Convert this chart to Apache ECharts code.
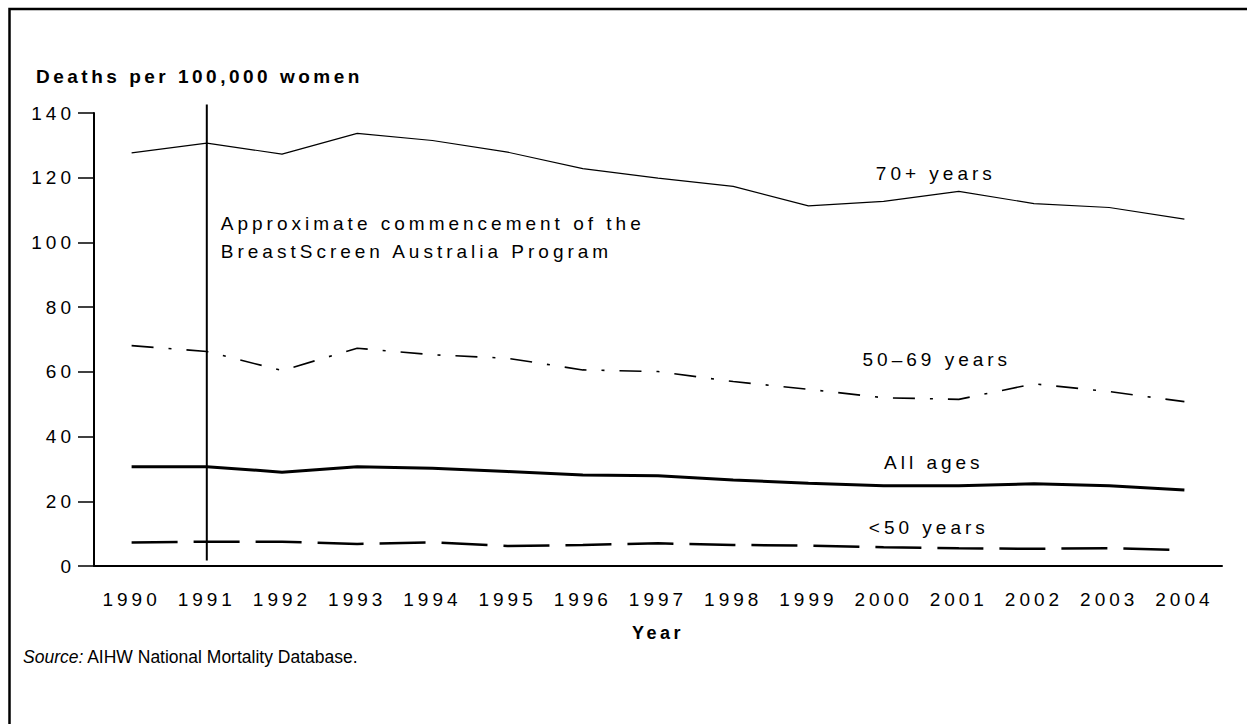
<!DOCTYPE html>
<html><head><meta charset="utf-8">
<script src="https://cdn.jsdelivr.net/npm/echarts@6/dist/echarts.min.js"></script>
<style>
html,body{margin:0;padding:0;background:#fff}
#c{width:1247px;height:724px}
#c text[style*="Liberation Sans"]{letter-spacing:4px}
#c text[style*="Liberation Sans"][style*="bold"]{letter-spacing:3.5px}
</style></head><body><div id="c"></div>
<script>
const years = ['1990','1991','1992','1993','1994','1995','1996','1997','1998','1999','2000','2001','2002','2003','2004'];
const over70 = [127.7,130.7,127.3,133.7,131.5,127.9,122.8,119.9,117.3,111.3,112.7,115.8,112.0,110.8,107.2];
const age50to69 = [68.1,66.3,60.4,67.3,65.3,64.2,60.6,60.1,57.0,54.6,52.0,51.5,56.3,53.9,50.8];
const allAges = [30.7,30.7,29.0,30.7,30.2,29.2,28.1,27.9,26.6,25.6,24.8,24.8,25.4,24.8,23.5];
const under50 = [7.3,7.5,7.5,6.8,7.3,6.2,6.5,7.0,6.5,6.3,5.8,5.5,5.3,5.5,4.9];
const seriesNames = ['70+ years','50\u201369 years','All ages','<50 years'];
const yMin = 0, yMax = 140, yStep = 20;
const screeningYear = '1991';
const screeningSpan = [1.7, 142.6];
const annotationText = 'Approximate commencement of the\nBreastScreen Australia Program';
const yAxisTitle = 'Deaths per 100,000 women';
const xAxisTitle = 'Year';
const sourceNote = 'AIHW National Mortality Database.';

const SP = 'Liberation Sans';
const chart = echarts.init(document.getElementById('c'), null, {renderer: 'svg'});

function nameMark(coordX, coordY, name, dx) {
  return {coord: [coordX, coordY], name: name, label: {offset: [dx, 0]}};
}
const markLabel = {
  show: true, position: 'inside', formatter: '{b}', color: '#000',
  fontSize: 19, fontFamily: SP
};
const markBase = {symbol: 'rect', symbolSize: 1, itemStyle: {color: 'rgba(0,0,0,0)'}, label: markLabel, silent: true};

chart.setOption({
  animation: false,
  backgroundColor: '#fff',
  title: {
    text: yAxisTitle, left: 31, top: 62,
    textStyle: {fontSize: 19, fontWeight: 'bold', fontFamily: SP, color: '#000'}
  },
  grid: {left: 94, right: 25, top: 113, bottom: 158, outerBoundsMode: 'none'},
  xAxis: {
    type: 'category', data: years, boundaryGap: true,
    name: xAxisTitle, nameLocation: 'middle', nameGap: 58,
    nameTextStyle: {fontSize: 18, fontWeight: 'bold', fontFamily: SP, color: '#000'},
    axisLine: {lineStyle: {color: '#000', width: 2}},
    axisTick: {alignWithLabel: true, length: 15, lineStyle: {color: '#000', width: 1.5}},
    axisLabel: {interval: 0, margin: 24, fontSize: 19, fontFamily: SP, color: '#000'},
    splitLine: {show: false}
  },
  yAxis: {
    type: 'value', min: yMin, max: yMax, interval: yStep,
    axisLine: {show: true, lineStyle: {color: '#000', width: 2}},
    axisTick: {show: true, length: 16, lineStyle: {color: '#000', width: 1.5}},
    axisLabel: {margin: 19, fontSize: 19, fontFamily: SP, color: '#000'},
    splitLine: {show: false}
  },
  series: [
    {
      name: seriesNames[0], type: 'line', data: over70, symbol: 'none', clip: false,
      lineStyle: {color: '#000', width: 1.2},
      markPoint: Object.assign({}, markBase, {data: [nameMark('2001', 121.2, seriesNames[0], -23)]})
    },
    {
      name: seriesNames[1], type: 'line', data: age50to69, symbol: 'none', clip: false,
      lineStyle: {color: '#000', width: 1.6, type: [22, 15, 3, 15]},
      markPoint: Object.assign({}, markBase, {data: [nameMark('2001', 63.7, seriesNames[1], -22)]})
    },
    {
      name: seriesNames[2], type: 'line', data: allAges, symbol: 'none', clip: false,
      lineStyle: {color: '#000', width: 3},
      markPoint: Object.assign({}, markBase, {data: [nameMark('2001', 32.1, seriesNames[2], -25)]})
    },
    {
      name: seriesNames[3], type: 'line', data: under50, symbol: 'none', clip: false,
      lineStyle: {color: '#000', width: 2.5, type: [46, 16]},
      markPoint: Object.assign({}, markBase, {data: [nameMark('2001', 12.0, seriesNames[3], -30)]})
    },
    {
      name: 'BreastScreen', type: 'line', symbol: 'none', clip: false, z: 5,
      data: [[screeningYear, screeningSpan[0]], [screeningYear, screeningSpan[1]]],
      lineStyle: {color: '#000', width: 2},
      markPoint: Object.assign({}, markBase, {data: [
        {coord: [screeningYear, 101.4], name: annotationText,
         label: {align: 'left', offset: [14, 0], lineHeight: 28}}
      ]})
    }
  ],
  graphic: [
    {type: 'rect', shape: {x: 9.5, y: 9, width: 1300, height: 800}, style: {fill: 'none', stroke: '#000', lineWidth: 2.5}, silent: true},
    {type: 'text', left: 23, top: 648, style: {
      text: '{i|Source:} ' + sourceNote, fontSize: 17.5, fontFamily: 'Arial', fill: '#000',
      rich: {i: {fontStyle: 'italic', fontSize: 17.5, fontFamily: 'Arial'}}
    }}
  ]
});
</script></body></html>
